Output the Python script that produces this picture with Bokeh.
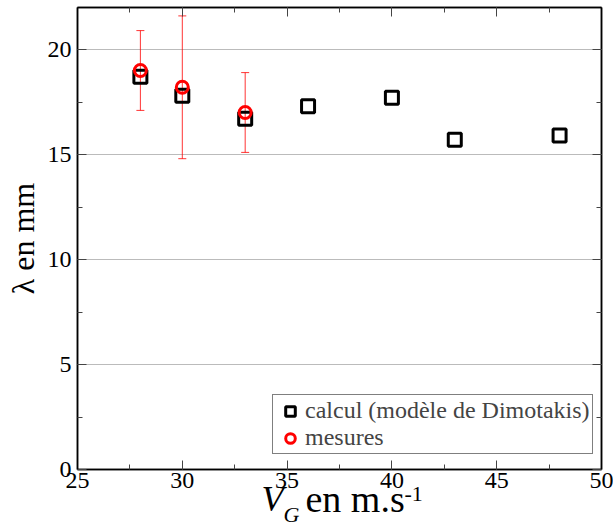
from bokeh.plotting import figure
from bokeh.layouts import column
from bokeh.models import (ColumnDataSource, Whisker, TeeHead, LinearAxis, SingleIntervalTicker,
                          Label, CustomJSTickFormatter)
from bokeh.embed import file_html
from bokeh.resources import INLINE

# ---- data ----
calc_x = [28, 30, 33, 36, 40, 43, 48]
calc_y = [18.7, 17.8, 16.7, 17.3, 17.7, 15.7, 15.9]
mes_x = [28, 30, 33]
mes_y = [19.0, 18.2, 17.0]
mes_upper = [20.9, 21.6, 18.9]
mes_lower = [17.1, 14.8, 15.1]

FONT = "Liberation Serif"

p = figure(frame_width=524, frame_height=462, x_range=(25, 50), y_range=(0, 22),
           output_backend="svg", toolbar_location=None,
           min_border_left=77, min_border_right=12, min_border_top=7, min_border_bottom=58)

p.outline_line_color = "black"
p.outline_line_width = 1.5
p.xgrid.visible = False
p.ygrid.grid_line_color = "#bbbbbb"
p.ygrid.grid_line_width = 1

def style_axis(ax, labels=True):
    ax.ticker = SingleIntervalTicker(interval=5, num_minor_ticks=2)
    ax.axis_line_color = "black"
    ax.axis_line_width = 1.5
    ax.major_tick_in = 9
    ax.major_tick_out = 0
    ax.minor_tick_in = 5
    ax.minor_tick_out = 0
    ax.major_tick_line_color = "#444444"
    ax.minor_tick_line_color = "#444444"
    ax.major_label_text_font = FONT
    ax.major_label_text_font_size = "24px"
    ax.major_label_text_color = "black"
    if not labels:
        ax.formatter = CustomJSTickFormatter(code="return ''")
        ax.major_label_standoff = 0

style_axis(p.xaxis[0])
style_axis(p.yaxis[0])
p.xaxis[0].major_label_standoff = 3
p.yaxis[0].major_label_standoff = 6
p.yaxis[0].axis_label = "λ en mm"
p.yaxis[0].axis_label_text_font = FONT
p.yaxis[0].axis_label_text_font_size = "32px"
p.yaxis[0].axis_label_text_font_style = "normal"
p.yaxis[0].axis_label_text_color = "black"
p.yaxis[0].axis_label_standoff = 4

top_ax = LinearAxis()
right_ax = LinearAxis()
style_axis(top_ax, labels=False)
style_axis(right_ax, labels=False)
p.add_layout(top_ax, "above")
p.add_layout(right_ax, "right")

calc_src = ColumnDataSource(dict(x=calc_x, y=calc_y))
mes_src = ColumnDataSource(dict(x=mes_x, y=mes_y, upper=mes_upper, lower=mes_lower))

p.scatter("x", "y", source=calc_src, marker="square", size=13, fill_color=None,
          line_color="black", line_width=3, legend_label="calcul (modèle de Dimotakis)")

wh = Whisker(base="x", upper="upper", lower="lower", source=mes_src,
             line_color="red", line_alpha=0.8, line_width=1,
             upper_head=TeeHead(size=8, line_color="red", line_alpha=0.8, line_width=1),
             lower_head=TeeHead(size=8, line_color="red", line_alpha=0.8, line_width=1))
p.add_layout(wh)

p.scatter("x", "y", source=mes_src, marker="circle", size=12, fill_color=None,
          line_color="red", line_width=3, legend_label="mesures")

leg = p.legend[0]
leg.location = (195, 15)
leg.margin = 0
leg.padding = 2
leg.spacing = 0
leg.glyph_width = 30
leg.glyph_height = 24
leg.label_standoff = 0
leg.label_text_font = FONT
leg.label_text_font_size = "24px"
leg.border_line_color = "black"
leg.border_line_width = 1
leg.background_fill_color = "white"
leg.background_fill_alpha = 1

# transparent overlay strip (pulled up over the bottom of the chart) that carries
# the x-axis title, which mixes italic, subscript and superscript pieces
OV_TOP = 455
OV_H = 82
ov = figure(width=613, height=OV_H, x_range=(0, 1), y_range=(0, 1),
            output_backend="svg", toolbar_location=None,
            x_axis_location=None, y_axis_location=None, min_border=0)
ov.outline_line_color = None
ov.background_fill_color = None
ov.border_fill_color = None
ov.grid.visible = False
ov.styles = {"margin-top": f"-{OV_H}px"}

def olabel(x, y, text, size, style="normal", align="left", baseline="alphabetic"):
    ov.add_layout(Label(x=x, y=y - OV_TOP, x_units="canvas", y_units="canvas", text=text,
                        text_font=FONT, text_font_size=size, text_font_style=style,
                        text_align=align, text_baseline=baseline, text_color="black"))

olabel(261, 508, "V", "36px", style="italic")
olabel(283, 524, "G", "22px", style="italic")
olabel(305, 508, "en m.s", "38px")
olabel(404, 503, "-1", "22px")

layout = column(p, ov, spacing=0)
open("out.html", "w").write(file_html(layout, INLINE))
